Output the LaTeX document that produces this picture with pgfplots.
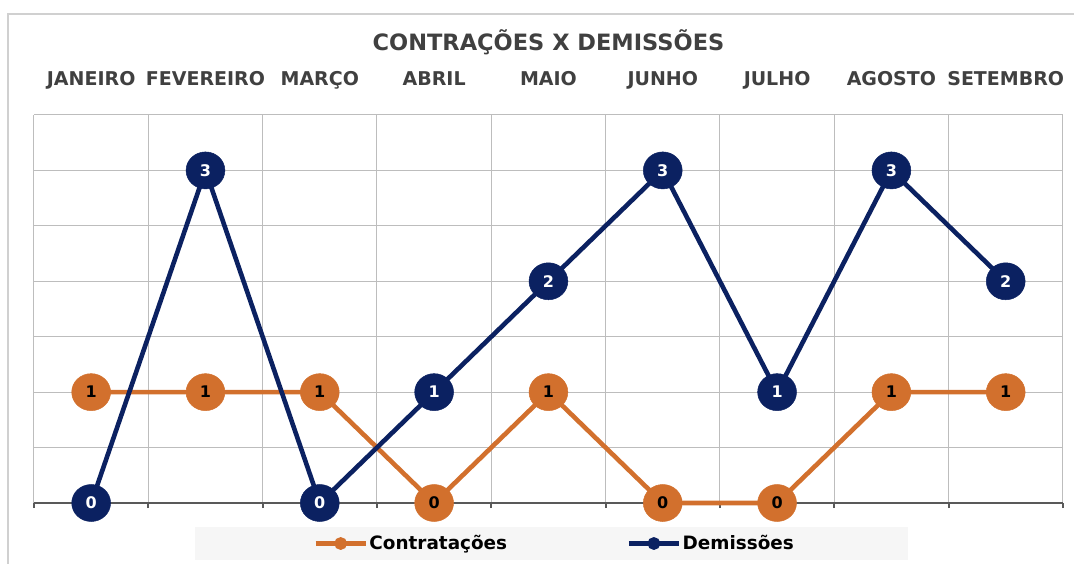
\documentclass[border=0pt]{standalone}
\usepackage{fontspec}
\setmainfont{DejaVu Sans}
\usepackage{pgfplots}
\pgfplotsset{compat=1.18}
\definecolor{corange}{HTML}{D2702D}
\definecolor{cnavy}{HTML}{0B2161}
\definecolor{gridgray}{HTML}{BDBDBD}
\definecolor{axisgray}{HTML}{595959}
\definecolor{txtgray}{HTML}{404040}
\definecolor{framegray}{HTML}{D0D0D0}
\definecolor{legbg}{HTML}{F6F6F6}
\begin{document}
\begin{tikzpicture}[x=1pt,y=1pt]
\useasboundingbox (0,0) rectangle (1074,563);
\draw[framegray, line width=1.5pt] (8,-20) -- (8,549) -- (1100,549);
\fill[legbg] (195,3) rectangle (908,36);
\node[anchor=base, text=txtgray, font=\fontsize{22.5}{26}\selectfont\bfseries] at (548.5,512) {CONTRAÇÕES X DEMISSÕES};
\begin{axis}[
  at={(34pt,60pt)}, anchor=south west,
  scale only axis, width=1029pt, height=388pt,
  xmin=-0.5, xmax=8.5, ymin=0, ymax=3.5,
  axis line style={draw=none},
  xtick={0,1,2,3,4,5,6,7,8},
  xticklabels={JANEIRO,FEVEREIRO,MARÇO,ABRIL,MAIO,JUNHO,JULHO,AGOSTO,SETEMBRO},
  xtick pos=bottom, xticklabel pos=top,
  xtick align=outside,
  major tick length=0pt,
  minor xtick={-0.5,0.5,...,8.5},
  minor tick length=5pt,
  every minor tick/.append style={line width=2pt, draw=axisgray},
  xminorgrids=true,
  minor x grid style={gridgray, line width=1pt},
  ytick={0,0.5,...,3.5}, yticklabels={},
  ytick style={draw=none},
  ymajorgrids=true,
  major y grid style={gridgray, line width=1pt},
  xticklabel style={anchor=base, yshift=29pt, text=txtgray, font=\fontsize{19}{20}\selectfont\bfseries},
  /pgf/number format/assume math mode=true,
  clip=false,
  legend columns=2,
  legend style={at={(0.5058,-0.1044)}, anchor=center, draw=none, fill=none,
    font=\fontsize{18.4}{20}\selectfont\bfseries,
    nodes={inner sep=1.5pt},
    /tikz/every even column/.append style={column sep=118pt}},
]
\draw[axisgray, line width=2.5pt] (rel axis cs:0,0) -- (rel axis cs:1,0);
\addplot[corange, line width=4.6pt, mark=*, mark size=18.5pt,
  mark options={solid, line width=0.5pt, xscale=1.05},
  nodes near coords, nodes near coords align=center,
  every node near coord/.append style={anchor=center, text=black, font=\fontsize{16}{17}\selectfont\bfseries},
  legend image code/.code={\draw[corange, line width=4.5pt] (0pt,0pt) -- (50pt,0pt); \fill[corange] (25pt,0pt) circle (4pt);}]
  coordinates {(0,1) (1,1) (2,1) (3,0) (4,1) (5,0) (6,0) (7,1) (8,1)};
\addlegendentry{Contratações}
\addplot[cnavy, line width=4.6pt, mark=*, mark size=18.5pt,
  mark options={solid, line width=0.5pt, xscale=1.05},
  nodes near coords, nodes near coords align=center,
  every node near coord/.append style={anchor=center, text=white, font=\fontsize{16}{17}\selectfont\bfseries},
  legend image code/.code={\draw[cnavy, line width=4.5pt] (0pt,0pt) -- (50pt,0pt); \fill[cnavy] (25pt,0pt) circle (4pt);}]
  coordinates {(0,0) (1,3) (2,0) (3,1) (4,2) (5,3) (6,1) (7,3) (8,2)};
\addlegendentry{Demissões}
\end{axis}
\end{tikzpicture}
\end{document}
